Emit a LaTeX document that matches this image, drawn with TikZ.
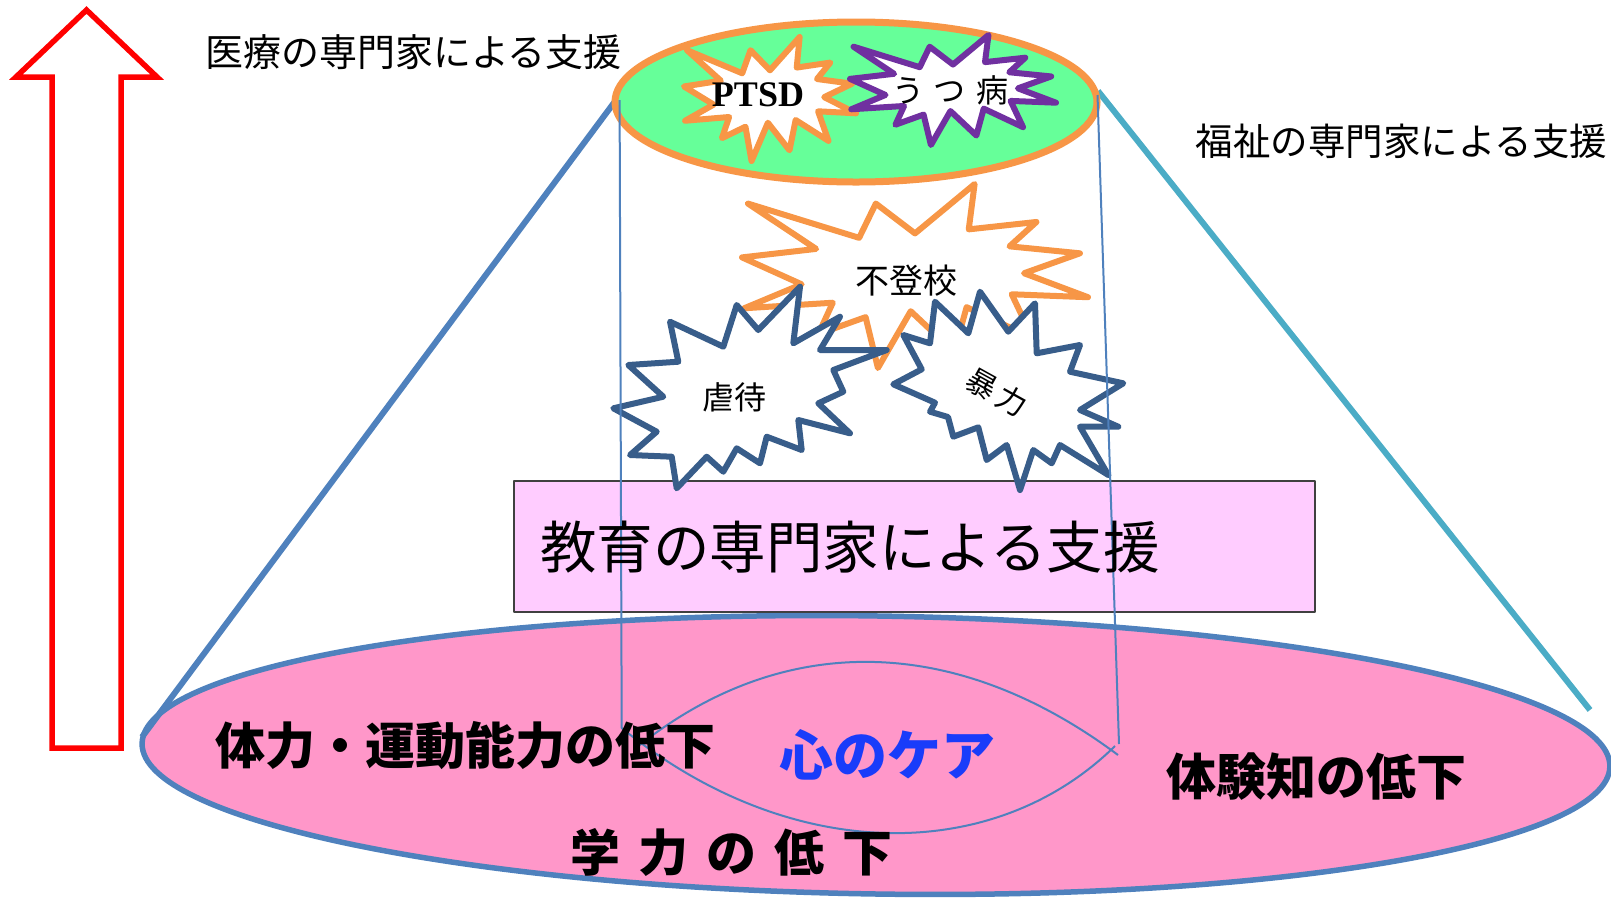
\documentclass[tikz,border=0pt]{standalone}
\usepackage{fontspec}
\newfontfamily\jp{Noto Sans CJK JP}
\newfontfamily\ptsdfont{Liberation Serif}
\definecolor{arrowred}{RGB}{255,0,0}
\definecolor{pinkfill}{RGB}{255,151,201}
\definecolor{steel}{RGB}{79,129,189}
\definecolor{coneright}{RGB}{75,172,198}
\definecolor{greenfill}{RGB}{102,255,153}
\definecolor{orangeline}{RGB}{247,150,70}
\definecolor{purpleline}{RGB}{112,48,160}
\definecolor{blueline}{RGB}{56,93,138}
\definecolor{boxfill}{RGB}{255,204,255}
\definecolor{boxline}{RGB}{64,64,64}
\definecolor{careblue}{RGB}{25,60,250}
% Office "Explosion 1" outline in a w x h box at (x0,y0)
\newcommand\explosion[5]{%
  \draw[#5, shift={(#1,#2)}, xscale=#3/100, yscale=#4/100]
    (50,26.85) -- (67.23,0) -- (65.53,24.65) -- (85.09,20.63) -- (77.32,33.87)
    -- (97.67,37.67) -- (81.51,48.50) -- (100,61.53) -- (77.95,59.92)
    -- (84.00,83.77) -- (64.91,66.93) -- (61.33,91.38) -- (48.76,69.14)
    -- (39.28,100) -- (35.72,72.35) -- (22.05,81.56) -- (26.24,64.52)
    -- (0.63,67.53) -- (17.23,54.51) -- (0,39.88) -- (21.42,35.26)
    -- (1.71,10.63) -- (33.85,29.26) -- (38.67,10.63) -- cycle;}
\tikzset{
  starline/.style={draw=#1, fill=white, line width=6},
  thinline/.style={draw=steel, line width=2},
  label/.style={inner sep=0pt, text=black},
  mincho/.style={label, font=\jp\fontsize{#1}{#1}\selectfont},
  gothic/.style={label, font=\jp\bfseries\fontsize{#1}{#1}\selectfont},
}
\begin{document}
\begin{tikzpicture}[x=1pt,y=-1pt,line join=round]
\useasboundingbox (0,0) rectangle (1611,898);

% red upward arrow
\draw[arrowred, line width=5.5, line join=miter]
  (86.5,10) -- (157,77) -- (121,77) -- (121,748) -- (52,748) -- (52,77) -- (16,77) -- cycle;

% bottom ellipse
\coordinate (bc) at (876,755);
\draw[fill=pinkfill, draw=steel, line width=5.5, rotate around={-0.9:(bc)}]
  (bc) ellipse [x radius=734, y radius=139];

% cone sides
\coordinate (tl) at (616,100);
\coordinate (bl) at (142,737);
\coordinate (tr) at (1098,91);
\coordinate (br) at (1590,710);
\draw[steel, line width=6] (tl) -- (bl);
\draw[coneright, line width=6] (tr) -- (br);

% top ellipse
\coordinate (tc) at (856,102);
\draw[fill=greenfill, draw=orangeline, line width=7] (tc) ellipse [x radius=241, y radius=80];

% stars in top ellipse
\explosion{684}{37}{172}{124}{starline=orangeline}
\explosion{850}{35}{206}{110}{starline=purpleline}

% education box
\draw[fill=boxfill, draw=boxline, line width=1.5] (514,481) rectangle (1315,612);

% middle stars
\explosion{742}{184}{346}{184}{starline=orangeline}
\draw[starline=blueline]
  (800,286.7) -- (793.3,343.3) -- (840,316.7) -- (820,350) -- (886.7,350)
  -- (833.3,370) -- (843.3,391.7) -- (818.3,403.3) -- (850,433.3) -- (798.3,420)
  -- (801.7,450) -- (766.7,436.7) -- (760,463.3) -- (736.7,448.3) -- (723.3,471.7)
  -- (706.7,456.7) -- (676.7,488.3) -- (671.7,456.7) -- (630,455) -- (656.7,431.7)
  -- (613.3,408.3) -- (663.3,396.7) -- (628.3,365) -- (678.3,361.7) -- (670,321.7)
  -- (723.3,346.7) -- (736.7,305) -- (758.3,330) -- cycle;
\draw[starline=blueline]
  (1020,490) -- (1033.3,450) -- (1051.7,463.3) -- (1060,445) -- (1108.3,475)
  -- (1080,426.7) -- (1118.3,426.7) -- (1080,410) -- (1123.3,383.3) -- (1070,371.7)
  -- (1080,345) -- (1036.7,353.3) -- (1035,303.3) -- (1008.3,331.7) -- (980,291.7)
  -- (968.3,333.3) -- (935,301.7) -- (930,343.3) -- (903.3,335) -- (921.7,369.3)
  -- (893.3,384.3) -- (935,402.7) -- (930,411.7) -- (948,417) -- (953.3,436.7)
  -- (978.3,427.3) -- (986.7,460) -- (1006.7,445) -- cycle;

% thin cylinder lines and lens
\coordinate (lt) at (619.6,100);
\coordinate (lb) at (621.7,728);
\coordinate (rt) at (1097.5,95);
\coordinate (rb) at (1119,744);
\coordinate (lensL) at (636,748);
\coordinate (lensR) at (1118,755);
\coordinate (lensB) at (1115,746);
\draw[thinline] (lt) -- (lb) .. controls (790,865) and (994,865) .. (lensB);
\draw[thinline] (lensL) .. controls (780,632) and (953,632) .. (lensR);
\draw[thinline] (rt) -- (rb);

% labels
\node[mincho=38] (med) at (413.5,52) {医療の専門家による支援};
\node[mincho=37.5] (wel) at (1401.5,141) {福祉の専門家による支援};
\node[mincho=56.5] (edu) at (850,547) {教育の専門家による支援};
\node[label, font=\ptsdfont\bfseries\fontsize{36}{36}\selectfont] (ptsd) at (758,95) {PTSD};
\node[mincho=32] (utsu) at (950,90) {う\hspace{10pt}つ\hspace{10pt}病};
\node[mincho=34] (futoko) at (906,281) {不登校};
\node[mincho=32] (gyaku) at (734,397) {虐待};
\node[mincho=30, rotate=-29] (boryoku) at (997,392) {暴\hspace{5pt}力};
\node[gothic=50] (tairyoku) at (465,746) {体力・運動能力の低下};
\node[gothic=54, text=careblue] (kokoro) at (887,755) {心のケア};
\node[gothic=50] (taiken) at (1316.5,777) {体験知の低下};
\node[gothic=50] (gaku) at (731,852) {学\hspace{18pt}力\hspace{18pt}の\hspace{18pt}低\hspace{18pt}下};
\end{tikzpicture}
\end{document}
